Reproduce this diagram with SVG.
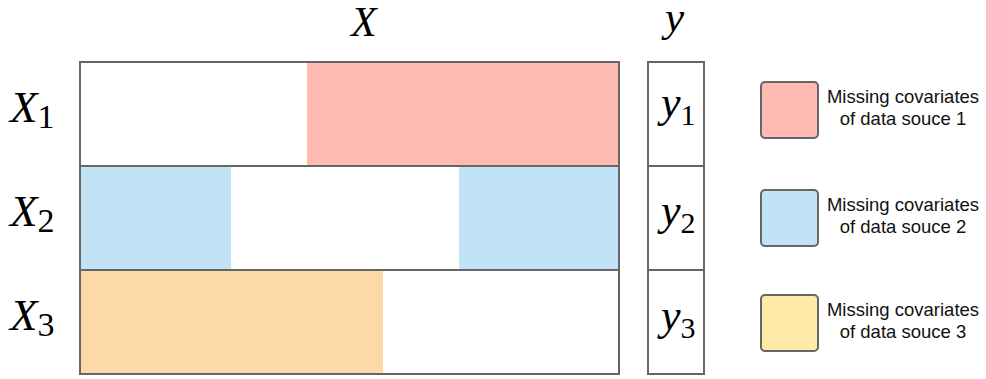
<svg xmlns="http://www.w3.org/2000/svg" width="986" height="379" viewBox="0 0 986 379">
<style>
.math{font-family:"Liberation Serif","Times New Roman",serif;fill:#000}
.it{font-style:italic}
.box{fill:none;stroke:#666;stroke-width:2}
.leg{stroke:#666;stroke-width:2}
.lt{font-family:"Liberation Sans",Arial,sans-serif;font-size:18.5px;fill:#111;text-anchor:middle}
</style>
<rect width="986" height="379" fill="#fff"/>
<g id="title-X"><text class="math it" x="351" y="36" font-size="42">X</text></g>
<g id="title-y"><text class="math it" x="665" y="31" font-size="43">y</text></g>
<g id="matrix-X">
<rect x="307" y="62" width="312" height="104" fill="#ffbab2"/>
<rect x="80" y="166" width="151" height="104" fill="#c2e3f5"/>
<rect x="459" y="166" width="160" height="104" fill="#c2e3f5"/>
<rect x="80" y="270" width="303" height="104" fill="#fdd9a8"/>
<rect class="box" x="80" y="62" width="539" height="104"/>
<rect class="box" x="80" y="166" width="539" height="104"/>
<rect class="box" x="80" y="270" width="539" height="104"/>
</g>
<g id="row-labels">
<text class="math" x="10" y="122" font-size="45"><tspan class="it">X</tspan><tspan font-size="34" dy="6">1</tspan></text>
<text class="math" x="10" y="226" font-size="45"><tspan class="it">X</tspan><tspan font-size="34" dy="6">2</tspan></text>
<text class="math" x="10" y="330" font-size="45"><tspan class="it">X</tspan><tspan font-size="34" dy="6">3</tspan></text>
</g>
<g id="vector-y">
<rect class="box" x="648" y="62" width="56" height="104"/>
<rect class="box" x="648" y="166" width="56" height="104"/>
<rect class="box" x="648" y="270" width="56" height="104"/>
<text class="math" x="661" y="117" font-size="44"><tspan class="it">y</tspan><tspan font-size="30" dy="8">1</tspan></text>
<text class="math" x="661" y="225" font-size="44"><tspan class="it">y</tspan><tspan font-size="30" dy="8">2</tspan></text>
<text class="math" x="661" y="330" font-size="44"><tspan class="it">y</tspan><tspan font-size="30" dy="8">3</tspan></text>
</g>
<g id="legend-1">
<rect class="leg" x="761" y="82" width="57" height="56" rx="4" fill="#ffbab2"/>
<text class="lt" x="903" y="103">Missing covariates</text>
<text class="lt" x="903" y="125">of data souce 1</text>
</g>
<g id="legend-2">
<rect class="leg" x="761" y="190" width="57" height="56" rx="4" fill="#c2e3f5"/>
<text class="lt" x="903" y="211">Missing covariates</text>
<text class="lt" x="903" y="233">of data souce 2</text>
</g>
<g id="legend-3">
<rect class="leg" x="761" y="295" width="57" height="56" rx="4" fill="#ffeaa8"/>
<text class="lt" x="903" y="316">Missing covariates</text>
<text class="lt" x="903" y="338">of data souce 3</text>
</g>
</svg>
